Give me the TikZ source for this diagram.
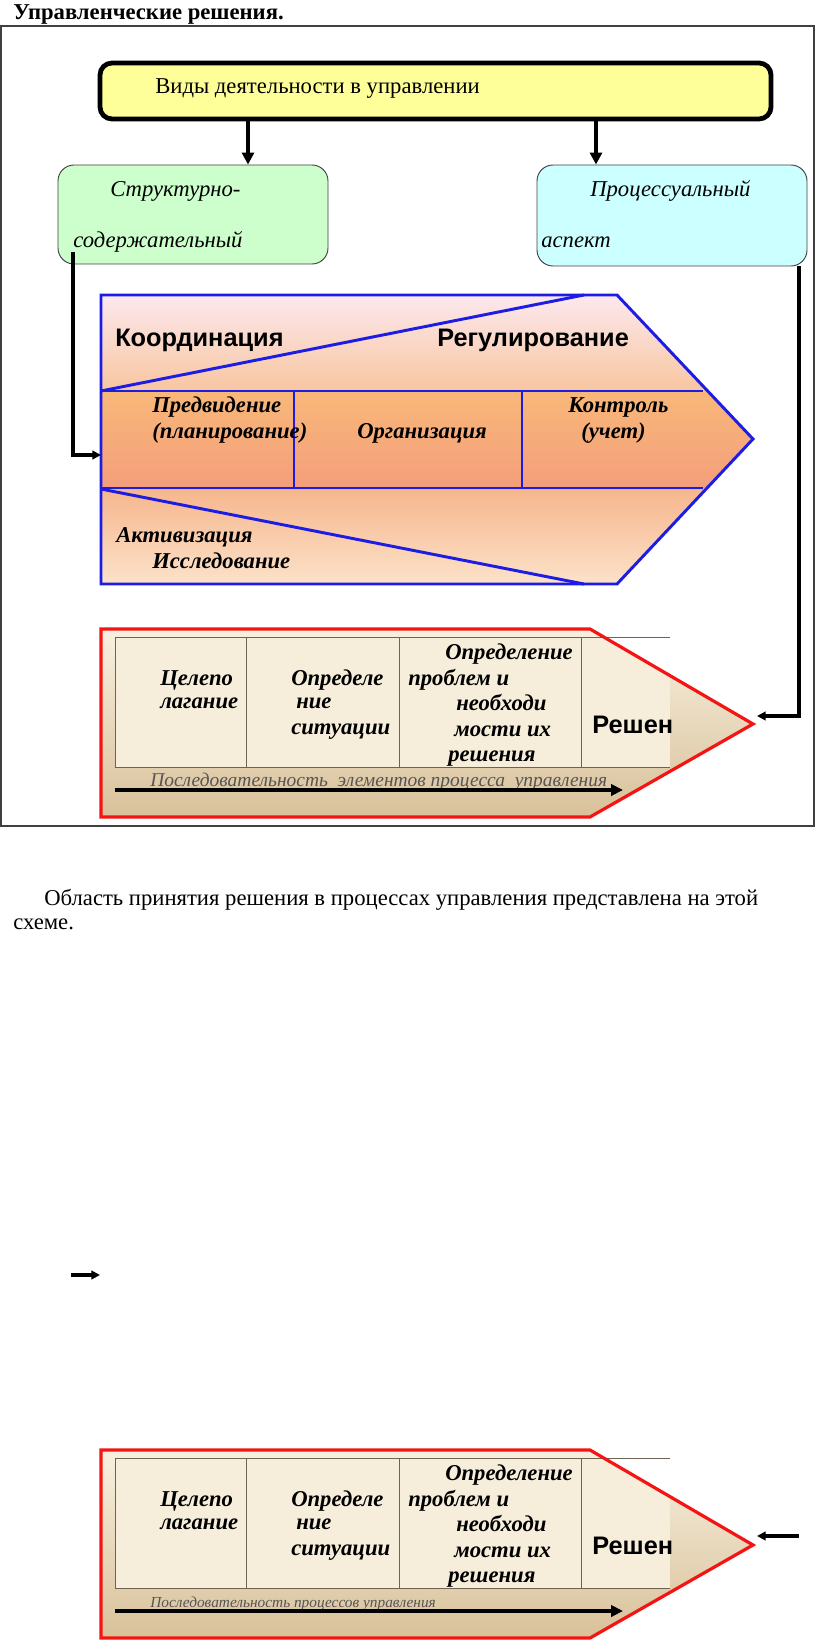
\documentclass[tikz,border=0pt]{standalone}
\usepackage{fontspec}
\setmainfont{Liberation Serif}
\setsansfont{Liberation Sans}
\usetikzlibrary{positioning,fit,arrows.meta}

\begin{document}
\begin{tikzpicture}[x=0.75pt,y=-0.75pt,
  testo/.style={font=\fontsize{17}{20}\selectfont, anchor=base west, inner sep=0pt},
  testoI/.style={font=\fontsize{17}{20}\selectfont\itshape, anchor=base west, inner sep=0pt},
  testoBI/.style={font=\fontsize{17}{20}\selectfont\bfseries\itshape, anchor=base west, inner sep=0pt},
  testoS/.style={font=\fontsize{19}{22}\selectfont\sffamily\bfseries, anchor=base west, inner sep=0pt},
  riquadro/.style={draw=black!75, line width=0.7pt, rounded corners=12pt, inner sep=0pt},
  freccia/.style={line width=2.3pt, -{Triangle[length=9pt,width=9pt]}},
  frecciaP/.style={line width=2.3pt, -{Triangle[length=6.5pt,width=6.5pt]}},
  bordoBlu/.style={draw=colBlu, line width=2.2pt},
  bordoRosso/.style={draw=colRosso, line width=2.4pt},
  tabella/.style={draw=lineGray, line width=0.7pt}]

% Colori
\definecolor{colVidi}{HTML}{FFFF99}
\definecolor{colStrut}{HTML}{CCFFCC}
\definecolor{colProc}{HTML}{CCFFFF}
\definecolor{colBlu}{HTML}{1C1CE4}
\definecolor{colRosso}{HTML}{F41414}
\definecolor{colRosa}{HTML}{FCE8EE}
\definecolor{colPesca}{HTML}{F8C6A0}
\definecolor{colArancio}{HTML}{F8B878}
\definecolor{colSalmone}{HTML}{F49E7C}
\definecolor{colPescaB}{HTML}{F6B68C}
\definecolor{colPescaC}{HTML}{FCE2CA}
\definecolor{colCrema}{HTML}{F8F0DF}
\definecolor{colTan}{HTML}{D8C19A}
\definecolor{colTab}{HTML}{F6EEDA}
\definecolor{lineGray}{HTML}{6E6350}
\definecolor{textGray}{HTML}{555555}

\useasboundingbox (0,0) rectangle (816,1644);

% Titolo
\node[font=\fontsize{17}{20}\selectfont\bfseries, anchor=base west, inner sep=0pt] (titolo) at (13,20) {Управленческие решения.};

% Cornice
\draw[line width=1pt, black!75] (1,26) rectangle (814,826);

% Riquadri superiori
\node[riquadro, fill=colVidi, draw=black, line width=3.6pt, rounded corners=9pt, fit={(100,63) (771,119)}] (vidi) {};
\node[testo] (vidiT) at (155,94) {Виды деятельности в управлении};

\node[riquadro, fill=colStrut, fit={(58,165) (328,264)}] (strut) {};
\node[testoI] (strutA) at (110,197) {Структурно-};
\node[testoI] (strutB) at (73,248) {содержательный};

\node[riquadro, fill=colProc, fit={(537,165) (807,266)}] (proc) {};
\node[testoI] (procA) at (590,197) {Процессуальный};
\node[testoI] (procB) at (541,248) {аспект};

\draw[freccia] (vidi.south -| 248,0) -- (strut.north -| 248,0);
\draw[freccia] (vidi.south -| 596,0) -- (proc.north -| 596,0);

% Areogramma blu
\begin{scope}
\clip (101,295) -- (617,295) -- (753,439) -- (617,584) -- (101,584) -- cycle;
\shade[top color=colRosa, bottom color=colPesca] (101,295) rectangle (753,391);
\shade[top color=colArancio, bottom color=colSalmone] (101,391) rectangle (753,488);
\shade[top color=colPescaB, bottom color=colPescaC] (101,488) rectangle (753,584);
\end{scope}
\draw[bordoBlu] (101,295) -- (617,295) -- (753,439) -- (617,584) -- (101,584) -- cycle;
\draw[bordoBlu] (101,391) -- (584,295);
\draw[bordoBlu] (101,489) -- (584,584);
\draw[bordoBlu] (101,391) -- (703,391);
\draw[bordoBlu] (101,488) -- (703,488);
\draw[bordoBlu] (294,391) -- (294,488);
\draw[bordoBlu] (522,391) -- (522,488);

\node[testoS] (coord) at (115,346) {Координация};
\node[testoS] (regol) at (437,346) {Регулирование};
\node[testoBI] (predA) at (152,412) {Предвидение};
\node[testoBI] (predB) at (152,438) {(планирование)};
\node[testoBI] (organ) at (357,438) {Организация};
\node[testoBI] (kontA) at (568,412) {Контроль};
\node[testoBI] (kontB) at (581,438) {(учет)};
\node[testoBI] (aktiv) at (116,542) {Активизация};
\node[testoBI] (issl) at (152,568) {Исследование};

% Connettori laterali
\coordinate (strutP) at (73,252);
\coordinate (bluW) at (101,455);
\draw[frecciaP] (strutP) |- (bluW);
\coordinate (rossoE) at (757,716);
\draw[frecciaP] (proc.south -| 799,0) |- (rossoE);

% Areogrammi rossi
\foreach \n/\dy/\fs/\seq in {1/0/14.6/{Последовательность\ \ элементов процесса\ \ управления}, 2/821/11.5/{Последовательность процессов управления}} {
\begin{scope}[shift={(0,\dy)}]
\shade[top color=colCrema, bottom color=colTan] (101,629) -- (590,629) -- (753,724) -- (590,817) -- (101,817) -- cycle;
\begin{scope}
\clip (101,629) -- (590,629) -- (753,724) -- (590,817) -- (101,817) -- cycle;
\fill[colTab] (115,637) rectangle (670,767);
\end{scope}
\draw[tabella] (115,637) -- (670,637);
\draw[tabella] (115,767) -- (670,767);
\draw[tabella] (115,637) -- (115,767);
\draw[tabella] (246,637) -- (246,767);
\draw[tabella] (399,637) -- (399,767);
\draw[tabella] (581,637) -- (581,767);
\draw[bordoRosso] (101,629) -- (590,629) -- (753,724) -- (590,817) -- (101,817) -- cycle;

\node[testoBI] (celA-\n) at (160,685) {Целепо};
\node[testoBI] (celB-\n) at (160,708) {лагание};
\node[testoBI] (sitA-\n) at (291,685) {Определе};
\node[testoBI] (sitB-\n) at (296,708) {ние};
\node[testoBI] (sitC-\n) at (291,734) {ситуации};
\node[testoBI] (probA-\n) at (445,659) {Определение};
\node[testoBI] (probB-\n) at (408,685) {проблем и};
\node[testoBI] (probC-\n) at (456,710) {необходи};
\node[testoBI] (probD-\n) at (454,736) {мости их};
\node[testoBI] (probE-\n) at (448,761) {решения};
\node[testoS] (resh-\n) at (592,733) {Решен};
\node[anchor=base west, inner sep=0pt, text=textGray, font=\fontsize{\fs}{\fs}\selectfont\itshape] (seq-\n) at (150,786) {\seq};
\coordinate (seqA-\n) at (115,790);
\coordinate (seqB-\n) at (623,790);
\draw[line width=3pt, -{Triangle[length=9pt,width=8.5pt]}] (seqA-\n) -- (seqB-\n);
\end{scope}
}

% Testo
\node[testo] (area1) at (44,905) {Область принятия решения в процессах управления представлена на этой};
\node[testo] (area2) at (13,929) {схеме.};

% Frecce isolate
\coordinate (pA) at (71,1275);
\coordinate (pB) at (100,1275);
\draw[frecciaP] (pA) -- (pB);
\coordinate (qA) at (799,1536);
\coordinate (qB) at (757,1536);
\draw[frecciaP] (qA) -- (qB);

\end{tikzpicture}
\end{document}
